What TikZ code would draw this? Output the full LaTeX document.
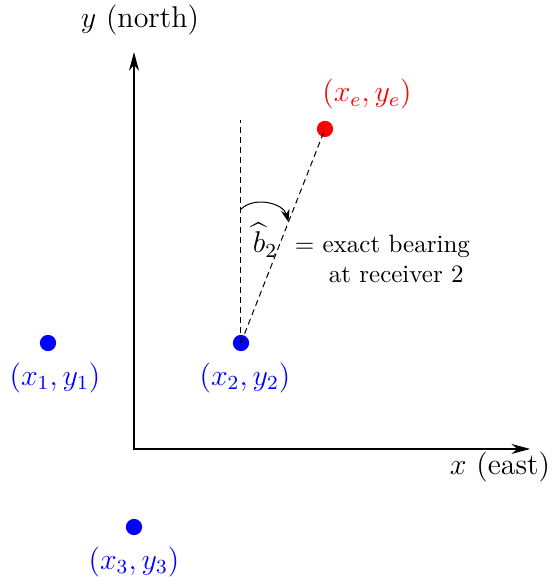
\documentclass[tikz,border=0pt]{standalone}
\usepackage{amsmath,amssymb}
\usetikzlibrary{arrows.meta,positioning,calc}
\tikzset{
  axis/.style={{Stealth[length=7.5pt,width=4pt]}-{Stealth[length=7.5pt,width=4pt]},semithick},
  rxdot/.style={circle,fill=blue,inner sep=0pt,minimum size=6.5pt},
  emdot/.style={circle,fill=red,inner sep=0pt,minimum size=6.5pt},
  rxlbl/.style={font=\large,text=blue},
  emlbl/.style={font=\large,text=red},
  axlbl/.style={font=\large},
  brg/.style={dash pattern=on 2.4pt off 1.6pt},
  arcarr/.style={-{Stealth[length=5pt,width=3.5pt]}}
}

\begin{document}
\begin{tikzpicture}
  \useasboundingbox (-1.884,-1.800) rectangle (5.863,6.312);

  % axes
  \coordinate (O) at (0,0);
  \coordinate (ytop) at (0,5.58);
  \coordinate (xend) at (5.57,0);
  \draw[axis] (ytop) -- (O) -- (xend);
  \node[axlbl] (ylab) at (0.084,6.03) {$y$ (north)};
  \node[axlbl] (xlab) at (5.146,-0.253) {$x$ (east)};

  % receivers and emitter
  \node[rxdot] (r1) at (-1.209,1.490) {};
  \node[rxdot] (r2) at (1.504,1.490) {};
  \node[rxdot] (r3) at (0,-1.097) {};
  \node[emdot] (em) at (2.685,4.499) {};
  \node[rxlbl, below=1pt of r1, xshift=2.8pt] (r1lbl) {$(x_1,y_1)$};
  \node[rxlbl, below=1pt of r2, xshift=1.6pt] (r2lbl) {$(x_2,y_2)$};
  \node[rxlbl, below=1pt of r3] (r3lbl) {$(x_3,y_3)$};
  \node[emlbl, above=1pt of em, xshift=16.8pt] (emlbl) {$(x_e,y_e)$};

  % bearing
  \coordinate (north) at (1.504,4.625);
  \draw[brg] (r2.center) -- (north);
  \draw[brg] (r2.center) -- (em.center);
  \draw[arcarr] ($(r2.center)!0.60!(north)$) to[bend left=60] ($(r2.center)!0.565!(em.center)$);
  \node[axlbl] (bhat) at (1.842,2.938) {$\widehat{b}_2$};
  \node[anchor=base west] (desc) at (bhat.base east)
    {$=$ \begin{tabular}[t]{@{}c@{}}exact bearing\\at receiver 2\end{tabular}};
\end{tikzpicture}
\end{document}
